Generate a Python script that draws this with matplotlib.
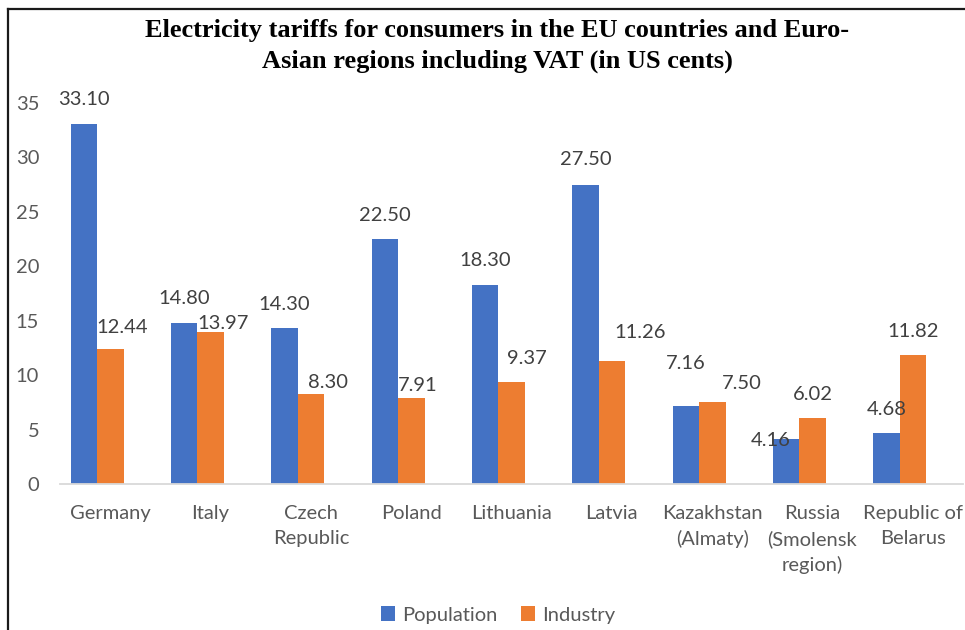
import matplotlib

matplotlib.use("Agg")

import matplotlib.pyplot as plt
import numpy as np
from matplotlib.lines import Line2D


categories = [
    "Germany",
    "Italy",
    "Czech\nRepublic",
    "Poland",
    "Lithuania",
    "Latvia",
    "Kazakhstan\n(Almaty)",
    "Russia\n(Smolensk\nregion)",
    "Republic of\nBelarus",
]
population = [33.10, 14.80, 14.30, 22.50, 18.30, 27.50, 7.16, 4.16, 4.68]
industry = [12.44, 13.97, 8.30, 7.91, 9.37, 11.26, 7.50, 6.02, 11.82]
y_ticks = [0, 5, 10, 15, 20, 25, 30, 35]

BLUE = "#4472C4"
ORANGE = "#ED7D31"
TICK_GREY = "#595959"
LABEL_GREY = "#404040"

# data label nudges (pixels), as placed by hand in the original
pop_nudge = {5: (0, 25), 6: (0, 43), 7: (-15, -2)}
ind_nudge = {0: (12, 21), 1: (12, 8), 2: (17, 11), 3: (6, 12), 4: (15, 24),
             5: (28, 29), 6: (29, 19)}

plt.rcParams["font.family"] = ["Lato", "DejaVu Sans"]

W, H = 965, 630
fig = plt.figure(figsize=(W / 100, H / 100), dpi=100)
ax = fig.add_axes([60 / W, 1 - 484 / H, 903 / W, (484 - 103) / H])

x = np.arange(len(categories))
width = 0.265
shift = -0.13
bars_p = ax.bar(x + shift - width / 2, population, width, color=BLUE, label="Population")
bars_i = ax.bar(x + shift + width / 2, industry, width, color=ORANGE, label="Industry")

for series, bars, nudge in ((population, bars_p, pop_nudge), (industry, bars_i, ind_nudge)):
    for i, (bar, val) in enumerate(zip(bars, series)):
        dx, dy = nudge.get(i, (0, 24))
        ax.annotate(f"{val:.2f}", (bar.get_x() + bar.get_width() / 2, val),
                    xytext=(dx, dy), textcoords="offset pixels",
                    ha="center", va="center", fontsize=14.5, color=LABEL_GREY)

ax.set_xlim(-0.5, len(categories) - 0.5)
ax.set_ylim(0, 35)
ax.set_yticks(y_ticks)
ax.set_xticks(x)
ax.set_xticklabels(categories, linespacing=1.55)
ax.tick_params(axis="both", length=0, labelsize=14.5, colors=TICK_GREY)
ax.tick_params(axis="x", pad=15)
ax.tick_params(axis="y", pad=15)
for side in ("top", "right", "left"):
    ax.spines[side].set_visible(False)
ax.spines["bottom"].set_color("#D9D9D9")
ax.spines["bottom"].set_linewidth(1.3)

fig.text(497 / W, 1 - 46 / H,
         "Electricity tariffs for consumers in the EU countries and Euro-\n"
         "Asian regions including VAT (in US cents)",
         ha="center", va="center", fontsize=19, fontweight="bold",
         family="Liberation Serif", linespacing=1.38, color="black")

fig.legend(handles=[bars_p, bars_i], labels=["Population", "Industry"],
           loc="center", bbox_to_anchor=(498 / W, 1 - 615 / H), ncol=2,
           frameon=False, fontsize=14.5, labelcolor=TICK_GREY,
           handlelength=0.7, handleheight=0.7, handletextpad=0.35,
           columnspacing=1.15)

# frame lines at the top and left edges of the original picture
fig.add_artist(Line2D([8 / W, 1], [1 - 9 / H, 1 - 9 / H], color="#1a1a1a", linewidth=1.6))
fig.add_artist(Line2D([8 / W, 8 / W], [0, 1 - 9 / H], color="#1a1a1a", linewidth=1.6))

fig.savefig("out.png", dpi=100)
